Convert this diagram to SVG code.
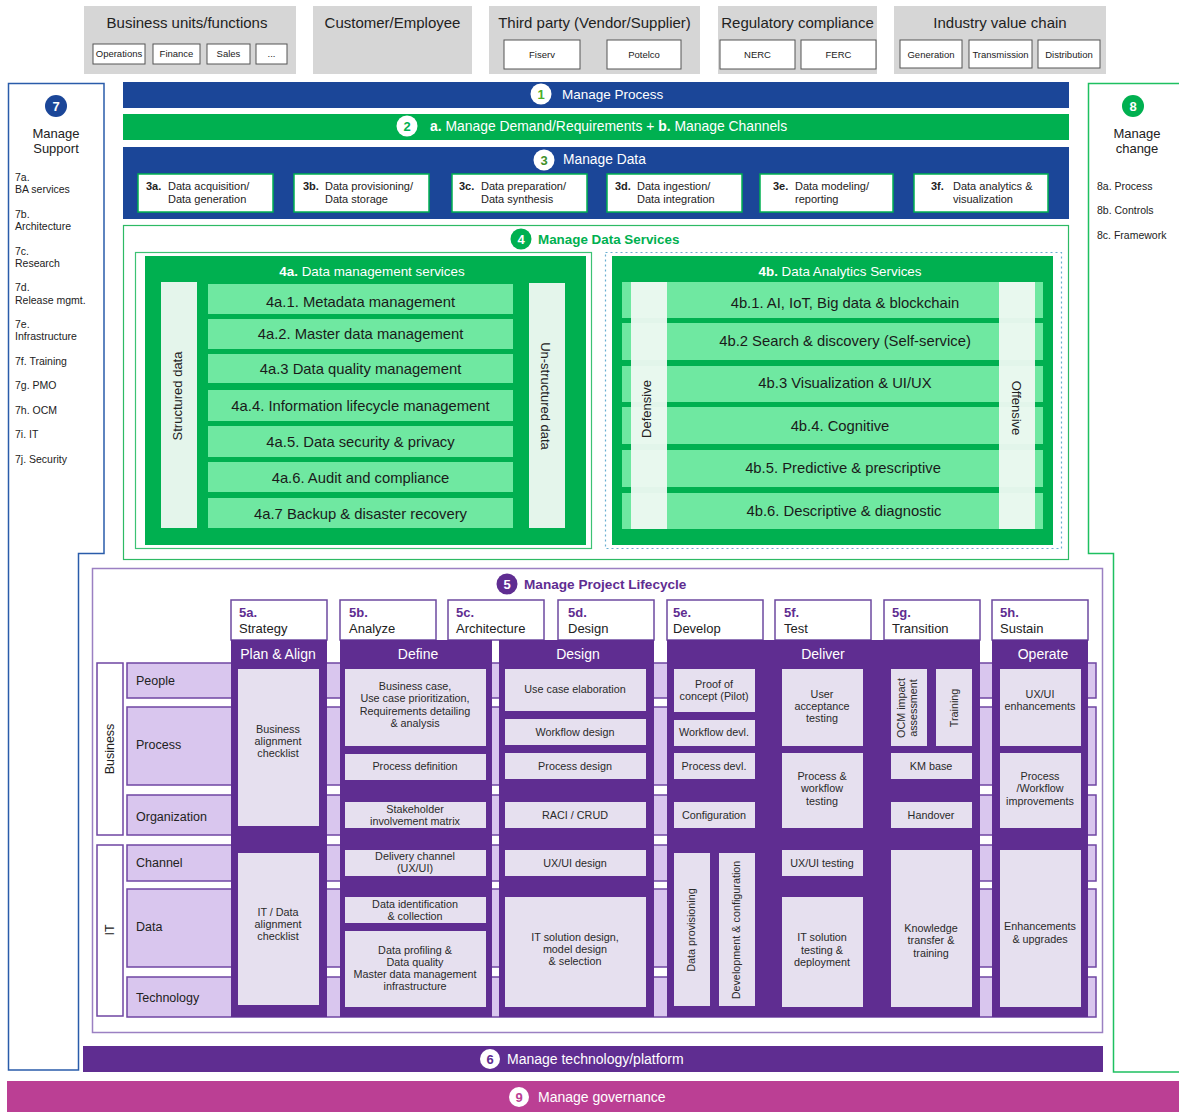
<svg xmlns="http://www.w3.org/2000/svg" width="1179" height="1112" viewBox="0 0 1179 1112">
<style>
text{font-family:"Liberation Sans",Arial,sans-serif;fill:#222}
.gray{fill:#d6d6d6}
.sub{fill:#fff;stroke:#555;stroke-width:1}
.t14{font-size:15px}
.wt{fill:#fff}
.c{text-anchor:middle}
.b{font-weight:bold}
.blue{fill:#1b4698}
.green{fill:#00b050}
.box3{fill:#fff;stroke:#00b050;stroke-width:1.5}
.t3{font-size:11px}
.row4{fill:#6fe8a1}
.col4{fill:#e4f5eb}
.col4b{fill:#eef9f2;opacity:0.95}
.r4t{font-size:14.8px;text-anchor:middle;fill:#1a1a1a}
.side{font-size:10.5px}
.hd5{fill:#fff;stroke:#6d4aa0;stroke-width:1.5}
.num5{font-size:13px;font-weight:bold;fill:#5f2d91}
.lbl5{font-size:13px;fill:#222}
.band{fill:#d9c6ee;stroke:#6f46a3;stroke-width:1.5}
.dp{fill:#5f2d91}
.ib{fill:#e6e0ef}
.bt{font-size:10.8px;text-anchor:middle;fill:#2a2a2a}
.colh{font-size:14px;text-anchor:middle;fill:#fff}
.rowl{font-size:12.5px;fill:#222}
</style>

<!-- Top stakeholder boxes -->
<g id="business-units">
  <rect class="gray" x="84" y="6" width="212" height="68"/>
  <text class="t14 c" x="187" y="28">Business units/functions</text>
  <rect class="sub" x="93" y="44" width="52" height="20"/><text class="c" x="119" y="57" font-size="9.5">Operations</text>
  <rect class="sub" x="153" y="44" width="47" height="20"/><text class="c" x="176.5" y="57" font-size="9.5">Finance</text>
  <rect class="sub" x="207" y="44" width="43" height="20"/><text class="c" x="228.5" y="57" font-size="9.5">Sales</text>
  <rect class="sub" x="256" y="44" width="31" height="20"/><text class="c" x="271.5" y="57" font-size="9.5">...</text>
</g>
<g id="customer-employee">
  <rect class="gray" x="313" y="6" width="159" height="68"/>
  <text class="t14 c" x="392.5" y="28">Customer/Employee</text>
</g>
<g id="third-party">
  <rect class="gray" x="489" y="6" width="211" height="68"/>
  <text class="t14 c" x="594.5" y="28">Third party (Vendor/Supplier)</text>
  <rect class="sub" x="504" y="40" width="76" height="29"/><text class="c" x="542" y="58" font-size="9.5">Fiserv</text>
  <rect class="sub" x="607" y="40" width="74" height="29"/><text class="c" x="644" y="58" font-size="9.5">Potelco</text>
</g>
<g id="regulatory">
  <rect class="gray" x="718" y="6" width="159" height="68"/>
  <text class="t14 c" x="797.5" y="28">Regulatory compliance</text>
  <rect class="sub" x="720" y="40" width="75" height="29"/><text class="c" x="757.5" y="58" font-size="9.5">NERC</text>
  <rect class="sub" x="801" y="40" width="75" height="29"/><text class="c" x="838.5" y="58" font-size="9.5">FERC</text>
</g>
<g id="industry-value-chain">
  <rect class="gray" x="894" y="6" width="212" height="68"/>
  <text class="t14 c" x="1000" y="28">Industry value chain</text>
  <rect class="sub" x="900" y="40" width="62" height="28"/><text class="c" x="931" y="58" font-size="9.5">Generation</text>
  <rect class="sub" x="969" y="40" width="63" height="28"/><text class="c" x="1000.5" y="58" font-size="9.5">Transmission</text>
  <rect class="sub" x="1038" y="40" width="62" height="28"/><text class="c" x="1069" y="58" font-size="9.5">Distribution</text>
</g>

<!-- 7 Manage Support -->
<g id="manage-support">
  <path d="M8.5,83.5 H104 V553.5 H78.5 V1070 H8.5 Z" fill="#fff" stroke="#2a5caa" stroke-width="1.5"/>
  <circle cx="56" cy="106" r="11" fill="#1b4698"/>
  <text class="c b" x="56" y="111" font-size="13" style="fill:#fff">7</text>
  <text class="c" x="56" y="138" font-size="13">Manage</text>
  <text class="c" x="56" y="153" font-size="13">Support</text>
  <text class="side" x="15" y="181">7a.</text>
  <text class="side" x="15" y="193">BA services</text>
  <text class="side" x="15" y="218">7b.</text>
  <text class="side" x="15" y="230">Architecture</text>
  <text class="side" x="15" y="255">7c.</text>
  <text class="side" x="15" y="267">Research</text>
  <text class="side" x="15" y="291">7d.</text>
  <text class="side" x="15" y="304">Release mgmt.</text>
  <text class="side" x="15" y="328">7e.</text>
  <text class="side" x="15" y="340">Infrastructure</text>
  <text class="side" x="15" y="365">7f. Training</text>
  <text class="side" x="15" y="389">7g. PMO</text>
  <text class="side" x="15" y="414">7h. OCM</text>
  <text class="side" x="15" y="438">7i. IT</text>
  <text class="side" x="15" y="463">7j. Security</text>
</g>

<!-- 8 Manage change -->
<g id="manage-change">
  <path d="M1180,83.5 H1088.5 V553.5 H1113.5 V1072 H1180" fill="#fff" stroke="#1ec060" stroke-width="1.5"/>
  <circle cx="1133" cy="106" r="11" fill="#00b050"/>
  <text class="c b" x="1133" y="111" font-size="13" style="fill:#fff">8</text>
  <text class="c" x="1137" y="138" font-size="13">Manage</text>
  <text class="c" x="1137" y="153" font-size="13">change</text>
  <text class="side" x="1097" y="190">8a. Process</text>
  <text class="side" x="1097" y="214">8b. Controls</text>
  <text class="side" x="1097" y="239">8c. Framework</text>
</g>

<!-- 1 Manage Process -->
<g id="manage-process">
  <rect class="blue" x="123" y="82" width="946" height="26"/>
  <circle cx="541" cy="94" r="10.5" fill="#fff"/>
  <text class="c b" x="541" y="99" font-size="13" style="fill:#4caf2a">1</text>
  <text x="562" y="99" font-size="13.5" class="wt">Manage Process</text>
</g>

<!-- 2 Manage Demand -->
<g id="manage-demand">
  <rect class="green" x="123" y="114" width="946" height="26"/>
  <circle cx="407" cy="126" r="10.5" fill="#fff"/>
  <text class="c b" x="407" y="131" font-size="13" style="fill:#00b050">2</text>
  <text x="430" y="131" font-size="13.9" class="wt"><tspan font-weight="bold">a.</tspan> Manage Demand/Requirements + <tspan font-weight="bold">b.</tspan> Manage Channels</text>
</g>

<!-- 3 Manage Data -->
<g id="manage-data">
  <rect class="blue" x="123" y="147" width="946" height="72"/>
  <circle cx="544" cy="160" r="10.5" fill="#fff"/>
  <text class="c b" x="544" y="165" font-size="13" style="fill:#3f8f2a">3</text>
  <text x="563" y="164" font-size="13.8" class="wt">Manage Data</text>
</g>
<g id="data-3a">
  <rect class="box3" x="138" y="174" width="135" height="38"/>
  <text class="t3 b" x="146" y="190">3a.</text><text class="t3" x="168" y="190">Data acquisition/</text>
  <text class="t3" x="168" y="203">Data generation</text>
</g>
<g id="data-3b">
  <rect class="box3" x="294" y="174" width="135" height="38"/>
  <text class="t3 b" x="303" y="190">3b.</text><text class="t3" x="325" y="190">Data provisioning/</text>
  <text class="t3" x="325" y="203">Data storage</text>
</g>
<g id="data-3c">
  <rect class="box3" x="452" y="174" width="135" height="38"/>
  <text class="t3 b" x="459" y="190">3c.</text><text class="t3" x="481" y="190">Data preparation/</text>
  <text class="t3" x="481" y="203">Data synthesis</text>
</g>
<g id="data-3d">
  <rect class="box3" x="607" y="174" width="135" height="38"/>
  <text class="t3 b" x="615" y="190">3d.</text><text class="t3" x="637" y="190">Data ingestion/</text>
  <text class="t3" x="637" y="203">Data integration</text>
</g>
<g id="data-3e">
  <rect class="box3" x="760" y="174" width="133" height="38"/>
  <text class="t3 b" x="773" y="190">3e.</text><text class="t3" x="795" y="190">Data modeling/</text>
  <text class="t3" x="795" y="203">reporting</text>
</g>
<g id="data-3f">
  <rect class="box3" x="914" y="174" width="134" height="38"/>
  <text class="t3 b" x="931" y="190">3f.</text><text class="t3" x="953" y="190">Data analytics &amp;</text>
  <text class="t3" x="953" y="203">visualization</text>
</g>

<!-- 4 Manage Data Services -->
<g id="manage-data-services">
  <rect x="123.5" y="225.5" width="945" height="334" fill="#fff" stroke="#2dba64" stroke-width="1.2"/>
  <circle cx="521" cy="239" r="10.5" fill="#00b050"/>
  <text class="c b" x="521" y="244" font-size="13" style="fill:#fff">4</text>
  <text x="538" y="244" font-size="13.4" font-weight="bold" style="fill:#00b050">Manage Data Services</text>
</g>

<g id="data-management-services">
  <rect x="135.5" y="252.5" width="456" height="296" fill="#fff" stroke="#3cc274" stroke-width="1.2"/>
  <rect class="green" x="145" y="256" width="441" height="289"/>
  <text class="c wt" x="372" y="276" font-size="13.4"><tspan font-weight="bold">4a.</tspan> Data management services</text>
  <rect class="col4" x="161" y="282" width="36" height="246"/>
  <text class="c" font-size="13" transform="translate(182,396) rotate(-90)">Structured data</text>
  <rect class="col4" x="529" y="283" width="36" height="245"/>
  <text class="c" font-size="13" transform="translate(541,396) rotate(90)">Un-structured data</text>
  <rect class="row4" x="208" y="284" width="305" height="30"/><text class="r4t" x="360.5" y="307">4a.1. Metadata management</text>
  <rect class="row4" x="208" y="319" width="305" height="30"/><text class="r4t" x="360.5" y="339">4a.2. Master data management</text>
  <rect class="row4" x="208" y="354" width="305" height="29"/><text class="r4t" x="360.5" y="374">4a.3 Data quality management</text>
  <rect class="row4" x="208" y="390" width="305" height="31"/><text class="r4t" x="360.5" y="411">4a.4. Information lifecycle management</text>
  <rect class="row4" x="208" y="426" width="305" height="31"/><text class="r4t" x="360.5" y="447">4a.5. Data security &amp; privacy</text>
  <rect class="row4" x="208" y="462" width="305" height="30"/><text class="r4t" x="360.5" y="483">4a.6. Audit and compliance</text>
  <rect class="row4" x="208" y="498" width="305" height="30"/><text class="r4t" x="360.5" y="519">4a.7 Backup &amp; disaster recovery</text>
</g>

<g id="data-analytics-services">
  <rect x="605.5" y="252.5" width="456" height="296" fill="#fff" stroke="#6aaed0" stroke-width="1.2" stroke-dasharray="2,3"/>
  <rect class="green" x="612" y="256" width="441" height="289"/>
  <text class="c wt" x="840" y="276" font-size="13.4"><tspan font-weight="bold">4b.</tspan> Data Analytics Services</text>
  <rect class="row4" x="622" y="282" width="421" height="36"/>
  <rect class="row4" x="622" y="323" width="421" height="37"/>
  <rect class="row4" x="622" y="366" width="421" height="36"/>
  <rect class="row4" x="622" y="407" width="421" height="37"/>
  <rect class="row4" x="622" y="450" width="421" height="37"/>
  <rect class="row4" x="622" y="493" width="421" height="36"/>
  <rect class="col4b" x="631" y="282" width="36" height="247"/>
  <rect class="col4b" x="999" y="282" width="36" height="247"/>
  <text class="c" font-size="13" transform="translate(651,409) rotate(-90)">Defensive</text>
  <text class="c" font-size="13" transform="translate(1012,408) rotate(90)">Offensive</text>
  <text class="r4t" x="845" y="308">4b.1. AI, IoT, Big data &amp; blockchain</text>
  <text class="r4t" x="845" y="346">4b.2 Search &amp; discovery (Self-service)</text>
  <text class="r4t" x="845" y="388">4b.3 Visualization &amp; UI/UX</text>
  <text class="r4t" x="840" y="431">4b.4. Cognitive</text>
  <text class="r4t" x="843" y="473">4b.5. Predictive &amp; prescriptive</text>
  <text class="r4t" x="844" y="516">4b.6. Descriptive &amp; diagnostic</text>
</g>

<!-- 5 Manage Project Lifecycle -->
<g id="manage-project-lifecycle">
  <rect x="92.5" y="568.5" width="1010" height="464" fill="#fff" stroke="#9b80c2" stroke-width="1.5"/>
  <circle cx="507" cy="584" r="10.5" fill="#5f2d91"/>
  <text class="c b" x="507" y="589" font-size="13" style="fill:#fff">5</text>
  <text x="524" y="589" font-size="13.6" font-weight="bold" style="fill:#5f2d91">Manage Project Lifecycle</text>
</g>

<g id="phase-headers">
  <rect class="hd5" x="231" y="600" width="96" height="40"/><text class="num5" x="239" y="617">5a.</text><text class="lbl5" x="239" y="633">Strategy</text>
  <rect class="hd5" x="340" y="600" width="96" height="40"/><text class="num5" x="349" y="617">5b.</text><text class="lbl5" x="349" y="633">Analyze</text>
  <rect class="hd5" x="448" y="600" width="96" height="40"/><text class="num5" x="456" y="617">5c.</text><text class="lbl5" x="456" y="633">Architecture</text>
  <rect class="hd5" x="558" y="600" width="96" height="40"/><text class="num5" x="568" y="617">5d.</text><text class="lbl5" x="568" y="633">Design</text>
  <rect class="hd5" x="667" y="600" width="96" height="40"/><text class="num5" x="673" y="617">5e.</text><text class="lbl5" x="673" y="633">Develop</text>
  <rect class="hd5" x="775" y="600" width="96" height="40"/><text class="num5" x="784" y="617">5f.</text><text class="lbl5" x="784" y="633">Test</text>
  <rect class="hd5" x="884" y="600" width="96" height="40"/><text class="num5" x="892" y="617">5g.</text><text class="lbl5" x="892" y="633">Transition</text>
  <rect class="hd5" x="992" y="600" width="96" height="40"/><text class="num5" x="1000" y="617">5h.</text><text class="lbl5" x="1000" y="633">Sustain</text>
</g>

<g id="row-bands">
  <rect x="97" y="663" width="26" height="172" fill="#fff" stroke="#6f46a3" stroke-width="1.5"/>
  <text class="c" font-size="12.5" transform="translate(114,749) rotate(-90)">Business</text>
  <rect x="97" y="845" width="26" height="171" fill="#fff" stroke="#6f46a3" stroke-width="1.5"/>
  <text class="c" font-size="12.5" transform="translate(114,930) rotate(-90)">IT</text>
  <rect class="band" x="127" y="663" width="969" height="35"/><text class="rowl" x="136" y="685">People</text>
  <rect class="band" x="127" y="707" width="969" height="78"/><text class="rowl" x="136" y="749">Process</text>
  <rect class="band" x="127" y="795" width="969" height="40"/><text class="rowl" x="136" y="821">Organization</text>
  <rect class="band" x="127" y="845" width="969" height="36"/><text class="rowl" x="136" y="867">Channel</text>
  <rect class="band" x="127" y="889" width="969" height="78"/><text class="rowl" x="136" y="931">Data</text>
  <rect class="band" x="127" y="977" width="969" height="40"/><text class="rowl" x="136" y="1002">Technology</text>
</g>

<g id="plan-align">
  <rect class="dp" x="231" y="640" width="96" height="377"/>
  <text class="colh" x="278" y="659">Plan &amp; Align</text>
  <rect class="ib" x="238" y="669" width="81" height="157"/>
  <text class="bt" x="278" y="733">Business</text><text class="bt" x="278" y="745">alignment</text><text class="bt" x="278" y="757">checklist</text>
  <rect class="ib" x="238" y="853" width="81" height="152"/>
  <text class="bt" x="278" y="916">IT / Data</text><text class="bt" x="278" y="928">alignment</text><text class="bt" x="278" y="940">checklist</text>
</g>

<g id="define">
  <rect class="dp" x="340" y="640" width="152" height="377"/>
  <text class="colh" x="418" y="659">Define</text>
  <rect class="ib" x="345" y="669" width="141" height="77"/>
  <text class="bt" x="415" y="690">Business case,</text><text class="bt" x="415" y="702">Use case prioritization,</text><text class="bt" x="415" y="715">Requirements detailing</text><text class="bt" x="415" y="727">&amp; analysis</text>
  <rect class="ib" x="345" y="754" width="141" height="26"/><text class="bt" x="415" y="770">Process definition</text>
  <rect class="ib" x="345" y="802" width="141" height="26"/><text class="bt" x="415" y="813">Stakeholder</text><text class="bt" x="415" y="825">involvement matrix</text>
  <rect class="ib" x="345" y="850" width="141" height="26"/><text class="bt" x="415" y="860">Delivery channel</text><text class="bt" x="415" y="872">(UX/UI)</text>
  <rect class="ib" x="345" y="897" width="141" height="26"/><text class="bt" x="415" y="908">Data identification</text><text class="bt" x="415" y="920">&amp; collection</text>
  <rect class="ib" x="345" y="931" width="141" height="76"/>
  <text class="bt" x="415" y="954">Data profiling &amp;</text><text class="bt" x="415" y="966">Data quality</text><text class="bt" x="415" y="978">Master data management</text><text class="bt" x="415" y="990">infrastructure</text>
</g>

<g id="design">
  <rect class="dp" x="499" y="640" width="155" height="377"/>
  <text class="colh" x="578" y="659">Design</text>
  <rect class="ib" x="505" y="669" width="141" height="42"/><text class="bt" x="575" y="693">Use case elaboration</text>
  <rect class="ib" x="505" y="719" width="141" height="26"/><text class="bt" x="575" y="736">Workflow design</text>
  <rect class="ib" x="505" y="753" width="141" height="26"/><text class="bt" x="575" y="770">Process design</text>
  <rect class="ib" x="505" y="802" width="141" height="26"/><text class="bt" x="575" y="819">RACI / CRUD</text>
  <rect class="ib" x="505" y="850" width="141" height="26"/><text class="bt" x="575" y="867">UX/UI design</text>
  <rect class="ib" x="505" y="897" width="141" height="110"/>
  <text class="bt" x="575" y="941">IT solution design,</text><text class="bt" x="575" y="953">model design</text><text class="bt" x="575" y="965">&amp; selection</text>
</g>

<g id="deliver">
  <rect class="dp" x="667" y="640" width="313" height="377"/>
  <text class="colh" x="823" y="659">Deliver</text>
  <rect class="ib" x="674" y="669" width="81" height="43"/><text class="bt" x="714" y="688">Proof of</text><text class="bt" x="714" y="700">concept (Pilot)</text>
  <rect class="ib" x="674" y="720" width="81" height="26"/><text class="bt" x="714" y="736">Workflow devl.</text>
  <rect class="ib" x="674" y="753" width="81" height="26"/><text class="bt" x="714" y="770">Process devl.</text>
  <rect class="ib" x="674" y="802" width="81" height="26"/><text class="bt" x="714" y="819">Configuration</text>
  <rect class="ib" x="674" y="853" width="36" height="153"/><text class="bt" transform="translate(695,930) rotate(-90)">Data provisioning</text>
  <rect class="ib" x="719" y="853" width="36" height="153"/><text class="bt" transform="translate(740,930) rotate(-90)">Development &amp; configuration</text>
  <rect class="ib" x="782" y="669" width="81" height="77"/><text class="bt" x="822" y="698">User</text><text class="bt" x="822" y="710">acceptance</text><text class="bt" x="822" y="722">testing</text>
  <rect class="ib" x="782" y="753" width="81" height="75"/><text class="bt" x="822" y="780">Process &amp;</text><text class="bt" x="822" y="792">workflow</text><text class="bt" x="822" y="805">testing</text>
  <rect class="ib" x="782" y="850" width="81" height="26"/><text class="bt" x="822" y="867">UX/UI testing</text>
  <rect class="ib" x="782" y="897" width="81" height="110"/><text class="bt" x="822" y="941">IT solution</text><text class="bt" x="822" y="954">testing &amp;</text><text class="bt" x="822" y="966">deployment</text>
  <rect class="ib" x="891" y="669" width="36" height="77"/>
  <text class="bt" transform="translate(905,708) rotate(-90)">OCM impact</text>
  <text class="bt" transform="translate(917,708) rotate(-90)">assessment</text>
  <rect class="ib" x="936" y="669" width="36" height="77"/><text class="bt" transform="translate(958,708) rotate(-90)">Training</text>
  <rect class="ib" x="891" y="753" width="81" height="26"/><text class="bt" x="931" y="770">KM base</text>
  <rect class="ib" x="891" y="802" width="81" height="26"/><text class="bt" x="931" y="819">Handover</text>
  <rect class="ib" x="891" y="850" width="81" height="157"/><text class="bt" x="931" y="932">Knowledge</text><text class="bt" x="931" y="944">transfer &amp;</text><text class="bt" x="931" y="957">training</text>
</g>

<g id="operate">
  <rect class="dp" x="992" y="640" width="96" height="377"/>
  <text class="colh" x="1043" y="659">Operate</text>
  <rect class="ib" x="1000" y="669" width="81" height="77"/><text class="bt" x="1040" y="698">UX/UI</text><text class="bt" x="1040" y="710">enhancements</text>
  <rect class="ib" x="1000" y="753" width="81" height="75"/><text class="bt" x="1040" y="780">Process</text><text class="bt" x="1040" y="792">/Workflow</text><text class="bt" x="1040" y="805">improvements</text>
  <rect class="ib" x="1000" y="850" width="81" height="157"/><text class="bt" x="1040" y="930">Enhancements</text><text class="bt" x="1040" y="943">&amp; upgrades</text>
</g>

<!-- 6 Manage technology/platform -->
<g id="manage-technology">
  <rect class="dp" x="83" y="1046" width="1020" height="26"/>
  <circle cx="490" cy="1059" r="10" fill="#fff"/>
  <text class="c b" x="490" y="1064" font-size="13" style="fill:#5f2d91">6</text>
  <text x="507" y="1064" font-size="14" class="wt">Manage technology/platform</text>
</g>

<!-- 9 Manage governance -->
<g id="manage-governance">
  <rect x="7" y="1081" width="1172" height="31" fill="#bb3f94"/>
  <circle cx="519" cy="1097" r="10" fill="#fff"/>
  <text class="c b" x="519" y="1102" font-size="13" style="fill:#bb3f94">9</text>
  <text x="538" y="1102" font-size="14" class="wt">Manage governance</text>
</g>

<g id="connectors"></g>
</svg>
